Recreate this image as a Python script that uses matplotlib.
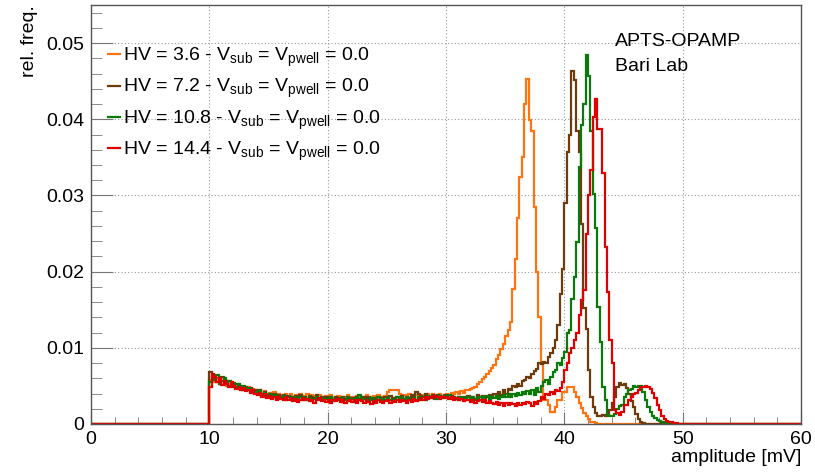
import numpy as np
import matplotlib
matplotlib.use('Agg')
import matplotlib.pyplot as plt
from matplotlib.ticker import MultipleLocator, FuncFormatter

plt.rcParams['font.family'] = ['Liberation Sans', 'DejaVu Sans']
plt.rcParams['mathtext.default'] = 'regular'

# histogram: 0.2 mV bins, values below start at 10 mV (units of 1e-4)
bin_width = 0.2
x_start = 10.0

hv36 = [58, 62, 55, 60, 52, 57, 54, 50, 56, 49,
        52, 47, 50, 45, 48, 46, 49, 43, 46, 44,
        42, 45, 40, 43, 39, 41, 38, 42, 37, 40,
        38, 36, 40, 37, 39, 35, 38, 36, 39, 37,
        36, 39, 35, 38, 37, 34, 38, 36, 35, 37,
        35, 38, 34, 36, 37, 33, 36, 35, 38, 34,
        36, 34, 37, 35, 33, 36, 38, 34, 35, 37,
        35, 38, 36, 34, 37, 42, 44, 45, 45, 44,
        40, 37, 38, 36, 39, 37, 35, 38, 36, 37,
        38, 36, 39, 37, 40, 38, 36, 39, 37, 38,
        40, 38, 41, 39, 42, 40, 43, 41, 44, 45,
        46, 47, 48, 52, 55, 59, 62, 66, 70, 73,
        78, 85, 90, 98, 105, 115, 123, 134, 177, 216,
        271, 324, 350, 420, 453, 399, 385, 285, 200, 141,
        80, 31, 31, 25, 16, 16, 22, 31, 31, 42,
        42, 49, 49, 49, 42, 35, 28, 21, 15, 10,
        6, 3, 2, 1, 0, 0, 0, 0, 0, 0,
        0, 0, 0, 0, 0, 0, 0, 0, 0, 0,
        0, 0, 0, 0, 0, 0, 0, 0, 0, 0,
        0, 0, 0, 0, 0, 0, 0, 0, 0, 0]

hv72 = [68, 60, 63, 55, 58, 62, 52, 56, 50, 54,
        49, 53, 47, 50, 45, 48, 44, 47, 42, 45,
        41, 44, 39, 42, 38, 40, 37, 39, 36, 38,
        35, 38, 34, 37, 36, 33, 37, 35, 38, 34,
        36, 33, 37, 35, 34, 38, 33, 36, 34, 35,
        33, 36, 32, 35, 34, 31, 35, 33, 36, 32,
        34, 32, 36, 33, 31, 35, 33, 36, 32, 34,
        33, 36, 34, 32, 35, 33, 37, 34, 32, 35,
        34, 37, 33, 36, 34, 38, 35, 42, 40, 37,
        36, 39, 37, 35, 38, 36, 34, 37, 35, 38,
        36, 34, 37, 35, 33, 36, 34, 32, 35, 37,
        34, 36, 33, 38, 35, 37, 34, 36, 38, 35,
        40, 36, 42, 38, 44, 40, 46, 44, 50, 48,
        53, 50, 56, 58, 62, 60, 66, 70, 72, 80,
        79, 81, 80, 88, 93, 100, 110, 130, 171, 204,
        290, 357, 380, 464, 452, 385, 357, 263, 152, 125,
        71, 36, 22, 14, 11, 10, 12, 11, 13, 18,
        28, 36, 49, 54, 51, 52, 47, 40, 30, 22,
        13, 7, 3, 1, 0, 0, 0, 0, 0, 0,
        0, 0, 0, 0, 0, 0, 0, 0, 0, 0]

hv108 = [55, 62, 58, 64, 52, 57, 60, 53, 56, 51,
         54, 48, 52, 46, 50, 44, 47, 43, 45, 42,
         40, 43, 37, 41, 35, 39, 34, 38, 33, 36,
         34, 37, 32, 36, 33, 35, 31, 34, 36, 32,
         35, 31, 34, 30, 33, 36, 32, 34, 31, 33,
         32, 35, 30, 33, 31, 34, 29, 32, 35, 31,
         33, 30, 34, 38, 31, 33, 29, 32, 34, 31,
         32, 35, 30, 33, 31, 34, 32, 30, 33, 35,
         31, 34, 32, 35, 33, 30, 34, 32, 36, 33,
         35, 32, 37, 34, 36, 33, 38, 35, 34, 37,
         35, 38, 34, 36, 33, 31, 35, 32, 34, 36,
         33, 35, 31, 34, 36, 32, 35, 37, 33, 36,
         34, 37, 33, 36, 38, 35, 39, 36, 40, 37,
         41, 38, 42, 39, 43, 40, 45, 38, 47, 42,
         50, 55, 58, 52, 62, 68, 71, 80, 78, 87,
         95, 119, 123, 164, 193, 239, 337, 392, 420, 484,
         457, 385, 302, 257, 154, 108, 49, 31, 12, 10,
         11, 13, 20, 23, 25, 36, 40, 44, 46, 50,
         49, 50, 50, 42, 31, 22, 16, 11, 8, 5,
         4, 2, 1, 1, 0, 0, 0, 0, 0, 0]

hv144 = [48, 65, 62, 55, 60, 51, 57, 53, 49, 55,
         50, 46, 49, 44, 47, 43, 45, 41, 44, 40,
         38, 41, 36, 39, 34, 37, 33, 36, 32, 35,
         33, 31, 35, 32, 34, 30, 33, 29, 32, 34,
         31, 33, 30, 32, 28, 31, 34, 30, 32, 29,
         31, 28, 32, 30, 33, 29, 31, 27, 30, 32,
         29, 31, 28, 32, 30, 27, 31, 29, 26, 30,
         28, 31, 29, 27, 30, 32, 28, 30, 29, 31,
         29, 32, 30, 28, 31, 29, 33, 30, 32, 34,
         32, 35, 33, 36, 34, 37, 35, 33, 36, 34,
         36, 33, 35, 32, 34, 31, 33, 30, 32, 31,
         29, 31, 28, 30, 32, 29, 31, 27, 30, 28,
         26, 29, 25, 28, 24, 27, 25, 28, 26, 24,
         27, 25, 28, 26, 29, 28, 24, 29, 26, 30,
         36, 33, 40, 38, 42, 40, 44, 43, 47, 55,
         71, 80, 93, 100, 110, 120, 143, 163, 176, 250,
         300, 333, 403, 427, 387, 387, 329, 232, 173, 110,
         80, 18, 14, 12, 16, 25, 25, 31, 35, 39,
         41, 44, 48, 49, 50, 49, 46, 41, 34, 25,
         18, 11, 6, 4, 3, 2, 1, 1, 0, 0]

labels = ['HV = 3.6 - V$_{sub}$ = V$_{pwell}$ = 0.0',
          'HV = 7.2 - V$_{sub}$ = V$_{pwell}$ = 0.0',
          'HV = 10.8 - V$_{sub}$ = V$_{pwell}$ = 0.0',
          'HV = 14.4 - V$_{sub}$ = V$_{pwell}$ = 0.0']
colors = ['#ff7410', '#6e3b0c', '#0a7a0a', '#e00000']
series = [hv36, hv72, hv108, hv144]

n_lead = int(round(x_start / bin_width))
n_total = int(round(60 / bin_width))

fig = plt.figure(figsize=(8.15, 4.72), dpi=100)
ax = fig.add_axes([91 / 815, 48 / 472, 710 / 815, 419 / 472])

for vals, col, lab in zip(series, colors, labels):
    v = np.array(vals, dtype=float) * 1e-4
    full = np.concatenate([np.zeros(n_lead), v, np.zeros(n_total - n_lead - len(v))])
    edges = np.arange(n_total + 1) * bin_width
    ax.stairs(full, edges, color=col, lw=1.6, label=lab)

ax.set_xlim(0, 60)
ax.set_ylim(0, 0.055)
ax.xaxis.set_major_locator(MultipleLocator(10))
ax.xaxis.set_minor_locator(MultipleLocator(2))
ax.yaxis.set_major_locator(MultipleLocator(0.01))
ax.yaxis.set_minor_locator(MultipleLocator(0.002))
ax.yaxis.set_major_formatter(FuncFormatter(lambda v, p: '0' if abs(v) < 1e-9 else f'{v:.2f}'))

ax.grid(True, which='major', color='#999999', lw=0.8, ls=(0, (1, 2)))
ax.set_axisbelow(True)
for s in ax.spines.values():
    s.set_color('#555555')
    s.set_linewidth(1.0)

fs = 14
ax.tick_params(axis='both', which='both', direction='in', colors='#777777',
               labelcolor='black', labelsize=fs, top=False, right=False)
ax.tick_params(axis='x', which='major', length=9, pad=5)
ax.tick_params(axis='x', which='minor', length=5)
ax.tick_params(axis='y', which='major', length=16, pad=5)
ax.tick_params(axis='y', which='minor', length=8)

ax.set_xlabel('amplitude [mV]', loc='right', fontsize=fs, labelpad=1)
ax.set_ylabel('rel. freq.', loc='top', fontsize=fs, labelpad=6)

ax.legend(loc='upper left', bbox_to_anchor=(0.024, 0.902), frameon=False,
          fontsize=fs, handlelength=0.6, handletextpad=0.15,
          labelspacing=0.41, borderpad=0, borderaxespad=0)

ax.text(0.738, 0.912, 'APTS-OPAMP', transform=ax.transAxes, fontsize=fs, va='center')
ax.text(0.738, 0.853, 'Bari Lab', transform=ax.transAxes, fontsize=fs, va='center')

fig.savefig('out.png', dpi=100)
